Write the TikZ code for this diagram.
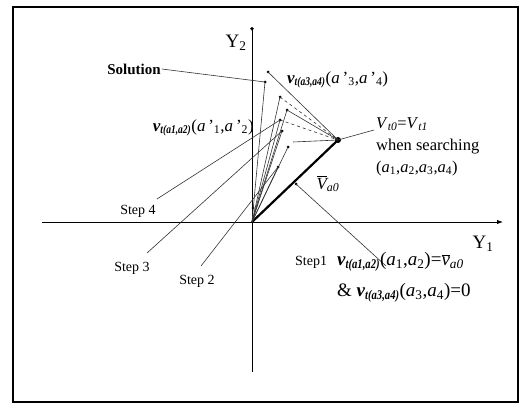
\documentclass[tikz,border=0pt]{standalone}
\usepackage{fontspec}
\setmainfont{Liberation Serif}
\usetikzlibrary{arrows.meta}

\tikzset{
  dot/.style={circle, fill, inner sep=0pt, minimum size=3pt},
  fan/.style={line width=0.6pt, black!80},
  leader/.style={line width=0.6pt, black!80},
  lbl/.style={font=\fontsize{14}{16}\selectfont, inner sep=1pt},
  vlbl/.style={font=\fontsize{17}{19}\selectfont, inner sep=1pt},
  steplbl/.style={font=\fontsize{19}{21}\selectfont, inner sep=1pt},
}
\newcommand{\vb}[1]{{\bfseries\itshape v}\textsubscript{\bfseries\itshape\scalebox{0.8}[1]{#1}}}

\begin{document}
\begin{tikzpicture}[x=1pt, y=-1pt]
  \useasboundingbox (0,0) rectangle (522,412);
  \draw[line width=1.8pt] (13,7) rectangle (518,402);
  % axes
  \coordinate (xl) at (42,222);
  \coordinate (xr) at (503,222);
  \coordinate (yb) at (252,372);
  \coordinate (yt) at (252,27);
  \coordinate (O) at (252,222);
  \draw[line width=0.9pt, -{Latex[length=6pt]}] (xl) -- (xr);
  \draw[line width=0.9pt, -{Circle[length=3.5pt]}] (yb) -- (yt);
  \node[font=\fontsize{19}{20}\selectfont] (y2) at (236,43) {Y\textsubscript{2}};
  \node[font=\fontsize{19}{20}\selectfont] (y1) at (483,244) {Y\textsubscript{1}};

  % search points
  \node[dot, minimum size=6pt] (T) at (338,140) {};
  \node[dot] (a0) at (296,184) {};
  \node[dot] (p2) at (278,167) {};
  \node[dot] (p3) at (288,147) {};
  \node[dot] (p4) at (282,131) {};
  \node[dot] (p5) at (280,120) {};
  \node[dot] (p6) at (287,110) {};
  \node[dot] (p7) at (280,97) {};
  \node[dot] (sol) at (265,82) {};
  \node[dot] (top) at (268,72) {};
  \node[dot] (o1) at (253,208) {};
  \coordinate (h) at (293,142);

  \draw[line width=2.2pt] (O) -- (T.center);
  \foreach \p in {p2,p3,p4,p5,p6,p7,sol}
    \draw[fan] (O) -- (\p.center);
  \draw[fan] (top.center) -- (T.center);
  \draw[fan, dashed] (p7.center) -- (T.center);
  \draw[fan] (p6.center) -- (T.center);
  \draw[fan, dashed] (p5.center) -- (T.center);
  \draw[fan] (h) -- (T.center);

  % labels
  \node[lbl, font=\fontsize{15}{17}\selectfont\bfseries] (solution) at (134,69) {Solution};
  \draw[leader] (solution.east) -- (sol.center);
  \node[vlbl, anchor=west] (v34) at (286,80)
    {\vb{t(a3,a4)}(\textit{a}\,'\textsubscript{3},\textit{a}\,'\textsubscript{4})};
  \node[vlbl, anchor=east] (v12) at (255,128)
    {\vb{t(a1,a2)}(\textit{a}\,'\textsubscript{1},\textit{a}\,'\textsubscript{2})};
  \node[lbl, font=\fontsize{16.5}{22}\selectfont, anchor=north west, align=left] (vt) at (375,116)
    {\textit{V}\textsubscript{\itshape t0}=\textit{V}\textsubscript{\itshape t1}\\
     when searching\\
     (\textit{a}\textsubscript{1},\textit{a}\textsubscript{2},\textit{a}\textsubscript{3},\textit{a}\textsubscript{4})};
  \coordinate (vtl) at (374,130);
  \draw[leader] (vtl) -- (T.center);
  \node[vlbl, font=\fontsize{17}{19}\selectfont\itshape] (a0l) at (328,184)
    {$\overline{\mbox{\itshape V}}$\textsubscript{\itshape a0}};

  \node[lbl] (st4) at (138,211) {Step 4};
  \node[lbl] (st3) at (132,268) {Step 3};
  \node[lbl] (st2) at (197,281) {Step 2};
  \node[lbl, anchor=west] (st1) at (294,262) {Step1};
  \draw[leader] (157,199) -- (p5.center);
  \draw[leader] (147,253) -- (p4.center);
  \draw[leader] (201,266) -- (p2.center);
  \draw[leader] (a0.center) -- (386,266);
  \node[steplbl, anchor=west] (s1a) at (336,262)
    {\vb{t(a1,a2)}(\textit{a}\textsubscript{1},\textit{a}\textsubscript{2})=$\overline{\mbox{\itshape v}}$\textsubscript{\itshape a0}};
  \node[steplbl, anchor=west] (s1b) at (336,293)
    {\& \vb{t(a3,a4)}(\textit{a}\textsubscript{3},\textit{a}\textsubscript{4})=0};
\end{tikzpicture}
\end{document}
